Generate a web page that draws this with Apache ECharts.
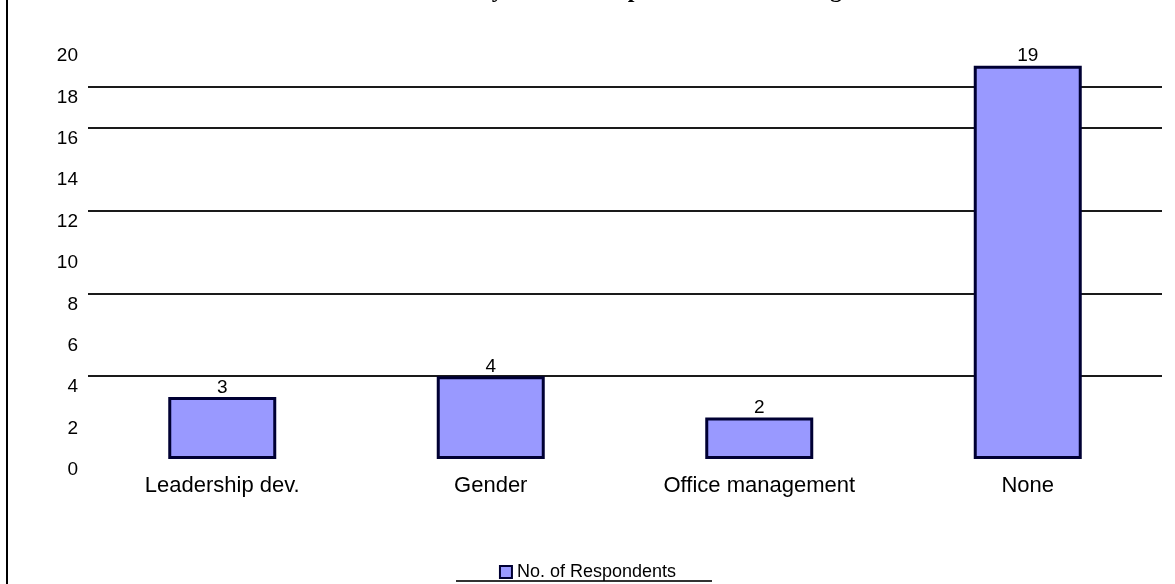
<!DOCTYPE html>
<html>
<head>
<meta charset="utf-8">
<script src="https://cdn.jsdelivr.net/npm/echarts@6/dist/echarts.min.js"></script>
<style>html,body{margin:0;padding:0;background:#fff;}#c{width:1175px;height:584px;}</style>
</head>
<body>
<div id="c"></div>
<script>
const titleText = 'Courses Attended by Female Respondents in Training';
const categories = ['Leadership dev.', 'Gender', 'Office management', 'None'];
const seriesName = 'No. of Respondents';
const respondents = [3, 4, 2, 19];
const yMin = 0, yMax = 20, yStep = 2;
// gridlines visible in the reference (values): 4, 8, 12, 16, 18
const shownGridValues = [4, 8, 12, 16, 18];

const gridColors = [];
for (let v = yMin; v <= yMax; v += yStep) {
  gridColors.push(shownGridValues.indexOf(v) >= 0 ? '#1a1a1a' : 'rgba(0,0,0,0)');
}

const chart = echarts.init(document.getElementById('c'));
chart.setOption({
  backgroundColor: '#ffffff',
  animation: false,
  textStyle: { fontFamily: 'Liberation Sans, Arial, sans-serif' },
  grid: { left: 88, right: 13, top: 45, bottom: 125, containLabel: false },
  legend: {
    data: [seriesName],
    left: 'center',
    top: 558,
    icon: 'rect',
    itemWidth: 12,
    itemHeight: 12,
    itemGap: 5,
    itemStyle: { borderWidth: 2, borderColor: '#000033' },
    textStyle: { fontSize: 18, color: '#000', fontFamily: 'Liberation Sans, Arial, sans-serif' }
  },
  xAxis: {
    type: 'category',
    data: categories,
    axisLine: { show: false },
    axisTick: { show: false },
    axisLabel: { fontSize: 22, color: '#000', margin: 16 },
    splitLine: { show: false }
  },
  yAxis: {
    type: 'value',
    min: yMin,
    max: yMax,
    interval: yStep,
    axisLine: { show: false },
    axisTick: { show: false },
    axisLabel: { fontSize: 19, color: '#000', margin: 10, verticalAlign: 'top', lineHeight: 22 },
    splitLine: { show: true, lineStyle: { color: gridColors, width: 2 } }
  },
  series: [{
    name: seriesName,
    type: 'bar',
    data: respondents,
    barWidth: 108,
    itemStyle: { color: '#9999ff', borderColor: '#000033', borderWidth: 3 },
    label: { show: true, position: 'top', distance: 0, fontSize: 19, color: '#000' }
  }],
  graphic: [
    { type: 'line', shape: { x1: 7, y1: 0, x2: 7, y2: 584 }, style: { stroke: '#000', lineWidth: 2 } },
    { type: 'line', shape: { x1: 456, y1: 581, x2: 712, y2: 581 }, style: { stroke: '#333', lineWidth: 2 } },
    { type: 'text', x: 289, y: 3, style: { text: titleText, font: 'bold 24px "Liberation Serif", "Times New Roman", serif', fill: '#000', textAlign: 'left', textVerticalAlign: 'bottom' } }
  ]
});
</script>
</body>
</html>
